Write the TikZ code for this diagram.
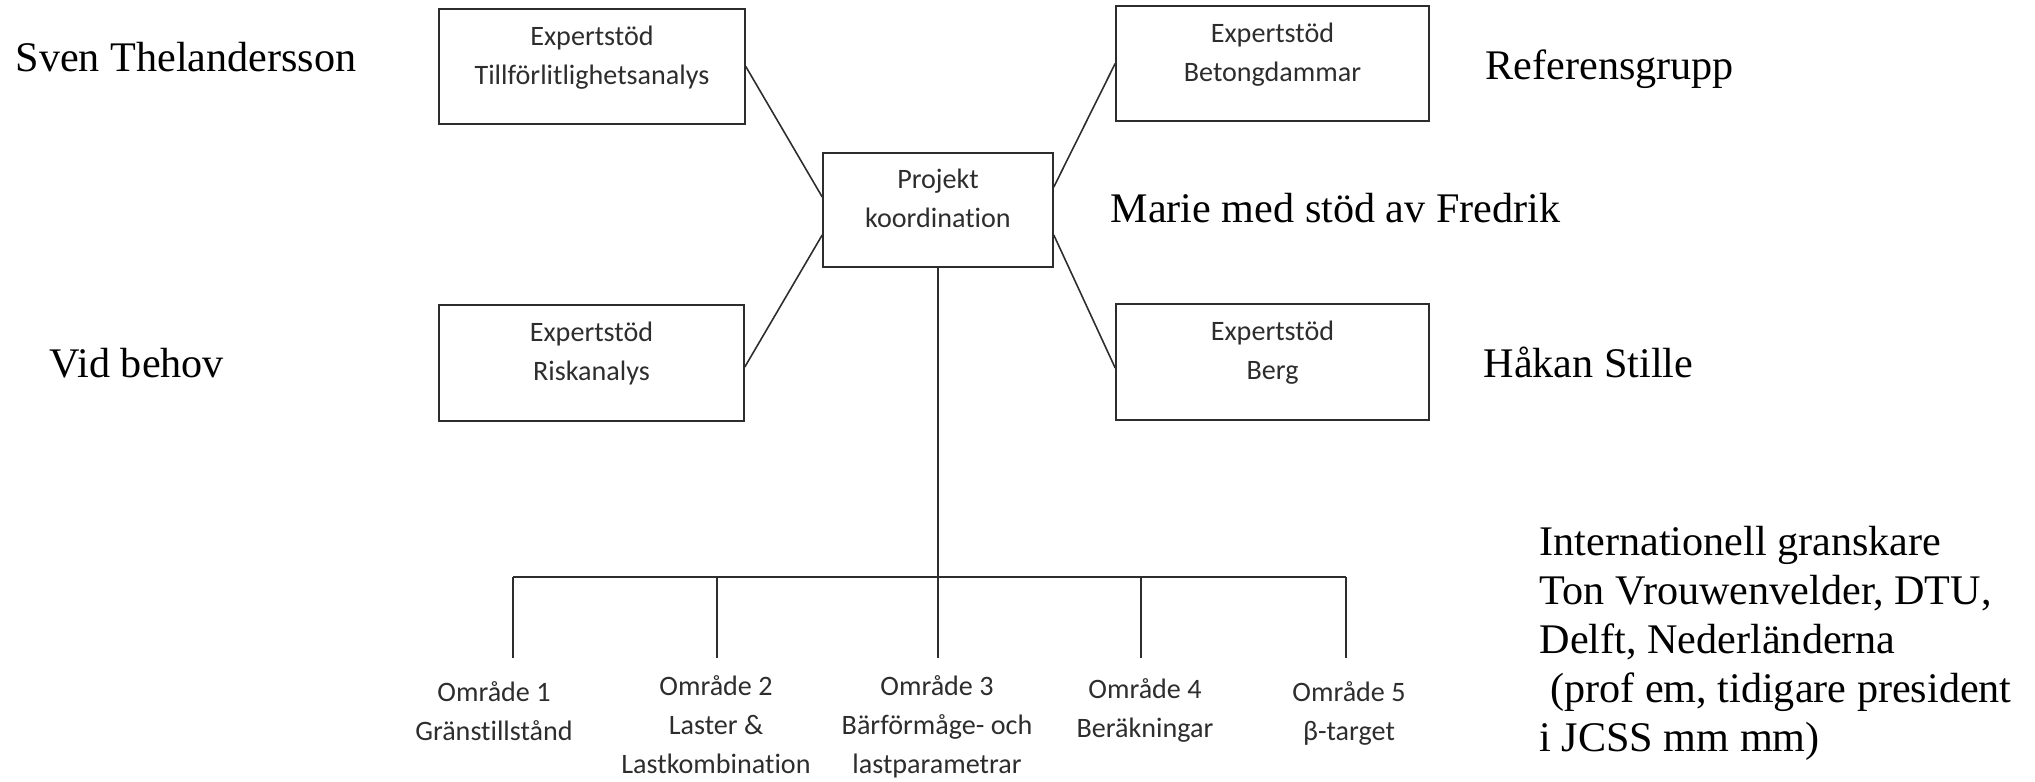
\documentclass[tikz,border=0pt]{standalone}
\usepackage{fontspec}
\setmainfont{Liberation Serif}
\newfontfamily\calibri[Ligatures=NoCommon]{Carlito}
\usetikzlibrary{calc}
\definecolor{scangray}{RGB}{45,45,45}

\begin{document}
\begin{tikzpicture}[x=0.1mm, y=-0.1mm,
    expbox/.style={draw=scangray, line width=0.45pt, inner sep=0pt, minimum height=11.5mm},
    boxtxt/.style={font=\calibri\fontsize{8}{9.6}\selectfont, text=scangray, inner sep=0pt, anchor=base},
    person/.style={font=\fontsize{12}{14}\selectfont, inner sep=0pt, anchor=base west},
    link/.style={draw=scangray, line width=0.45pt}]
  \useasboundingbox (0,0) rectangle (2035,782);
  % Coordination and expert support boxes
  \node[expbox, minimum width=23mm, minimum height=11.4mm] (proj) at (938,210) {};
  \node[expbox, minimum width=30.6mm] (tillf) at (592,66.5) {};
  \node[expbox, minimum width=30.5mm, minimum height=11.6mm] (risk) at (591.5,363) {};
  \node[expbox, minimum width=31.3mm] (betong) at (1272.5,63.5) {};
  \node[expbox, minimum width=31.3mm, minimum height=11.6mm] (berg) at (1272.5,362) {};
  \node[boxtxt] (proj1) at ($(proj.north)+(0,36)$) {Projekt};
  \node[boxtxt] (proj2) at ($(proj.north)+(0,75)$) {koordination};
  \foreach \b/\l in {tillf/Tillförlitlighetsanalys, risk/Riskanalys, betong/Betongdammar, berg/Berg}{
    \node[boxtxt] (\b1) at ($(\b.north)+(0,37)$) {Expertstöd};
    \node[boxtxt] (\b2) at ($(\b.north)+(0,76)$) {\l};
  }
  \draw[link] (tillf.east) -- ([yshift=1.3mm]proj.west);
  \draw[link] ([yshift=-0.4mm]risk.east) -- ([yshift=-2.5mm]proj.west);
  \draw[link] ([yshift=2.3mm]proj.east) -- (betong.west);
  \draw[link] ([yshift=-2.5mm]proj.east) -- ([yshift=-0.6mm]berg.west);
  % Areas below the coordination
  \foreach \i/\x in {1/513, 2/717, 3/938, 4/1141, 5/1346}{
    \coordinate (top\i) at (\x,577);
    \coordinate (end\i) at (\x,658);
    \draw[link] (top\i) -- (end\i);
  }
  \draw[link] (proj.south) -- (top3);
  \draw[link] (top1) -- (top5);
  \foreach \i/\tx/\y/\txt in {1/494/702/{Område 1,Gränstillstånd},
                              2/716/696/{Område 2,Laster \&,Lastkombination},
                              3/937/696/{Område 3,Bärförmåge- och,lastparametrar},
                              4/1145/699/{Område 4,Beräkningar},
                              5/1349/702/{Område 5,β-target}}{
    \foreach \t [count=\k] in \txt
      \node[boxtxt] (omr\i\k) at (\tx,{\y+39*(\k-1)}) {\t};
  }
  % People next to the boxes
  \node[person] (sven) at (15,72) {Sven Thelandersson};
  \node[person] (vid) at (49,378) {Vid behov};
  \node[person] (ref) at (1485,80) {Referensgrupp};
  \node[person] (marie) at (1110,223) {Marie med stöd av Fredrik};
  \node[person] (hakan) at (1483,378) {Håkan Stille};
  \foreach \t [count=\k] in {Internationell granskare, {Ton Vrouwenvelder, DTU,}, {Delft, Nederländerna}, {\ (prof em, tidigare president}, i JCSS mm mm)}
    \node[person] (int\k) at (1539,{556+49*(\k-1)}) {\t};
\end{tikzpicture}
\end{document}
